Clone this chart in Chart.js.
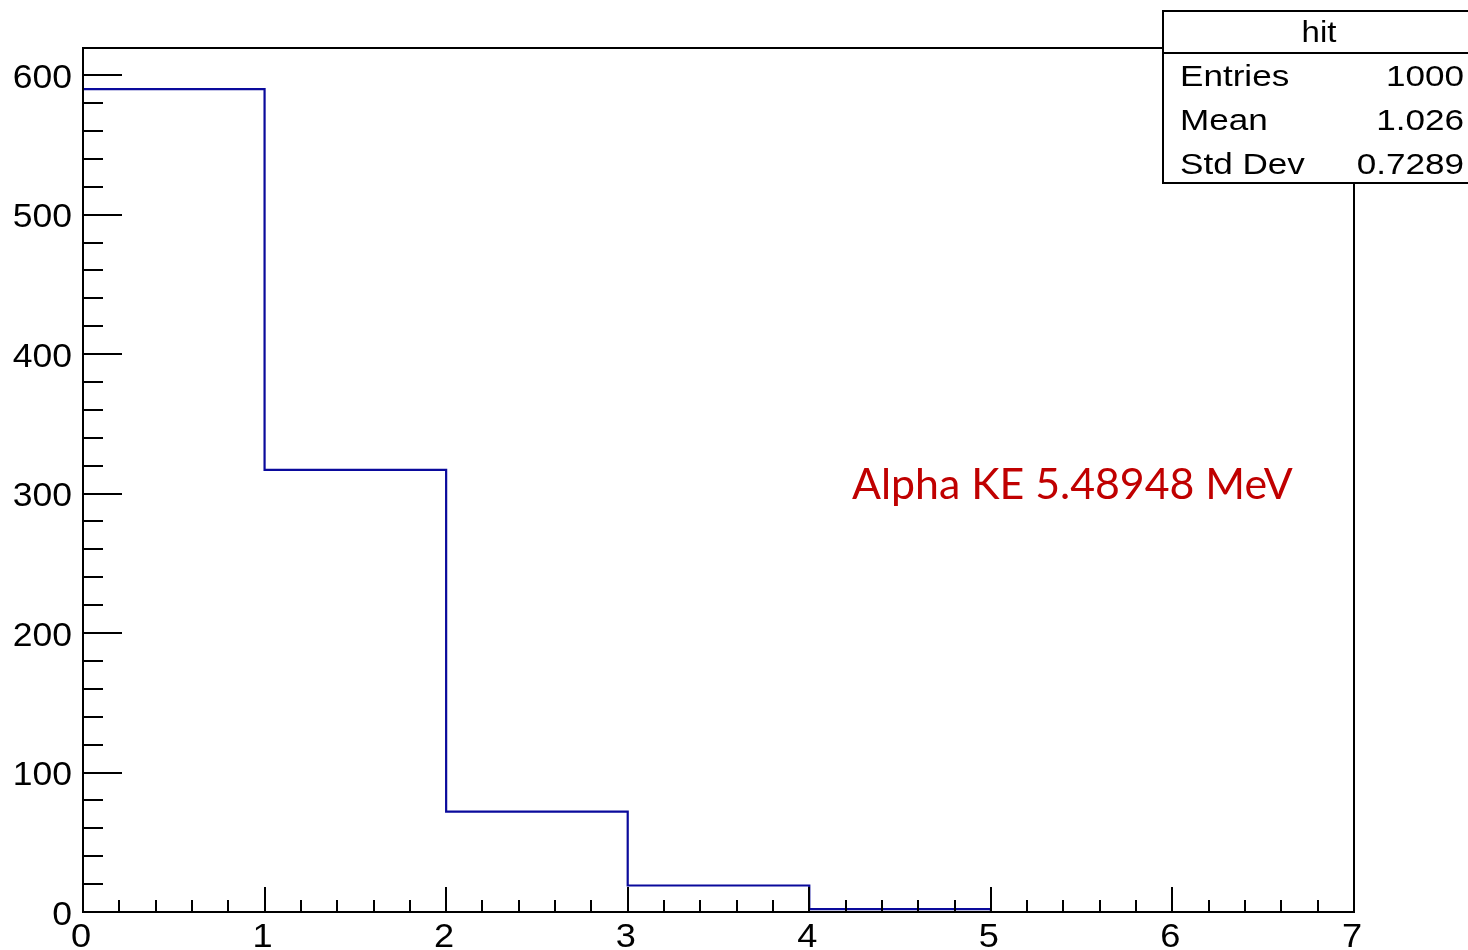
<!DOCTYPE html>
<html>
<head>
<meta charset="utf-8">
<script src="https://cdn.jsdelivr.net/npm/chart.js@4/dist/chart.umd.min.js"></script>
<style>
  html, body { margin: 0; padding: 0; background: #fff; }
  #wrap { width: 1468px; height: 950px; position: relative; }
</style>
</head>
<body>
<div id="wrap"><canvas id="c" width="1468" height="950"></canvas></div>
<script>
// Histogram "hit": number of hits per event
const binEdges = [0, 1, 2, 3, 4, 5, 6, 7];
const binCounts = [590, 317, 72, 19, 2, 0, 0];
const xTickLabels = ['0', '1', '2', '3', '4', '5', '6', '7'];
const yTickValues = [0, 100, 200, 300, 400, 500, 600];
const statsTitle = 'hit';
const statsNames = ['Entries', 'Mean', 'Std Dev'];
const statsValues = ['1000', '1.026', '0.7289'];
const annotation = 'Alpha KE 5.48948 MeV';

// outline of the histogram: each bin contributes its left and right edge
const outline = [];
binCounts.forEach((c, i) => {
  outline.push({ x: binEdges[i], y: c });
  outline.push({ x: binEdges[i + 1], y: c });
});

const yMax = Math.max(...binCounts) * 1.05;
const AXIS_FONT = '"Liberation Sans", Arial, Helvetica, sans-serif';

// Helvetica-style text, slightly widened
function wideText(ctx, text, x, y, align, size, stretch) {
  ctx.save();
  ctx.font = size + 'px ' + AXIS_FONT;
  ctx.textBaseline = 'alphabetic';
  ctx.textAlign = 'left';
  const w = ctx.measureText(text).width * stretch;
  let left = x;
  if (align === 'right') left = x - w;
  else if (align === 'center') left = x - w / 2;
  ctx.translate(left, y);
  ctx.scale(stretch, 1);
  ctx.fillText(text, 0, 0);
  ctx.restore();
}

// frame, inner tick marks, axis labels, stats box and the red note
const rootStyle = {
  id: 'rootStyle',
  afterDatasetsDraw(chart) {
    const ctx = chart.ctx;
    const a = chart.chartArea;
    const xs = chart.scales.x, ys = chart.scales.y;
    ctx.save();
    ctx.strokeStyle = '#000';
    ctx.lineWidth = 2;
    ctx.lineCap = 'butt';
    // frame
    ctx.strokeRect(a.left, a.top, a.right - a.left, a.bottom - a.top);
    // x ticks (major every 1, minor every 0.2)
    ctx.beginPath();
    for (let k = 0; k <= 35; k++) {
      const v = k * 0.2;
      const px = Math.round(xs.getPixelForValue(v));
      const len = (k % 5 === 0) ? 25 : 12;
      ctx.moveTo(px, a.bottom);
      ctx.lineTo(px, a.bottom - len);
    }
    // y ticks (major every 100, minor every 20)
    for (let v = 0; v <= yMax; v += 20) {
      const py = Math.round(ys.getPixelForValue(v));
      const len = (v % 100 === 0) ? 39 : 20;
      ctx.moveTo(a.left, py);
      ctx.lineTo(a.left + len, py);
    }
    ctx.stroke();

    // tick labels
    ctx.fillStyle = '#000';
    xs.ticks.forEach((t, i) => {
      wideText(ctx, xTickLabels[i], xs.getPixelForValue(t.value) - 2, 947, 'center', 33.5, 1.08);
    });
    ys.ticks.forEach(t => {
      wideText(ctx, String(t.value), 72, ys.getPixelForValue(t.value) + 12.8, 'right', 33.5, 1.06);
    });

    // statistics box
    const bx = 1163, by = 11, bw = 320, bh = 172;
    ctx.fillStyle = '#fff';
    ctx.fillRect(bx, by, bw, bh);
    ctx.strokeRect(bx, by, bw, bh);
    ctx.beginPath();
    ctx.moveTo(bx, 53);
    ctx.lineTo(bx + bw, 53);
    ctx.stroke();
    ctx.fillStyle = '#000';
    wideText(ctx, statsTitle, 1319, 42, 'center', 30, 1.1);
    const rowsY = [86, 130, 174];
    statsNames.forEach((n, i) => {
      wideText(ctx, n, 1180, rowsY[i], 'left', 30, 1.17);
      wideText(ctx, statsValues[i], 1464, rowsY[i], 'right', 30, 1.17);
    });

    // annotation
    ctx.fillStyle = '#c00000';
    ctx.textAlign = 'left';
    ctx.textBaseline = 'alphabetic';
    let size = 40;
    ctx.font = size + 'px Lato, "Open Sans", sans-serif';
    const w = ctx.measureText(annotation).width;
    size = size * 441 / w;
    ctx.font = size.toFixed(2) + 'px Lato, "Open Sans", sans-serif';
    ctx.fillText(annotation, 852, 499);
    ctx.restore();
  }
};

new Chart(document.getElementById('c'), {
  type: 'line',
  data: {
    datasets: [{
      data: outline,
      borderColor: '#0a0a9c',
      borderWidth: 2.2,
      pointRadius: 0,
      tension: 0,
      fill: false
    }]
  },
  options: {
    responsive: false,
    animation: false,
    devicePixelRatio: 1,
    layout: { padding: { top: 48, right: 114, left: 0, bottom: 0 } },
    plugins: { legend: { display: false }, tooltip: { enabled: false } },
    scales: {
      x: {
        type: 'linear',
        min: binEdges[0],
        max: binEdges[binEdges.length - 1],
        grid: { display: false, drawTicks: false },
        border: { display: false },
        afterFit(s) { s.height = 38; },
        afterBuildTicks(s) { s.ticks = binEdges.map(v => ({ value: v })); },
        ticks: { display: false }
      },
      y: {
        type: 'linear',
        min: 0,
        max: yMax,
        grid: { display: false, drawTicks: false },
        border: { display: false },
        afterFit(s) { s.width = 83; },
        afterBuildTicks(s) { s.ticks = yTickValues.map(v => ({ value: v })); },
        ticks: { display: false }
      }
    }
  },
  plugins: [rootStyle]
});
</script>
</body>
</html>
